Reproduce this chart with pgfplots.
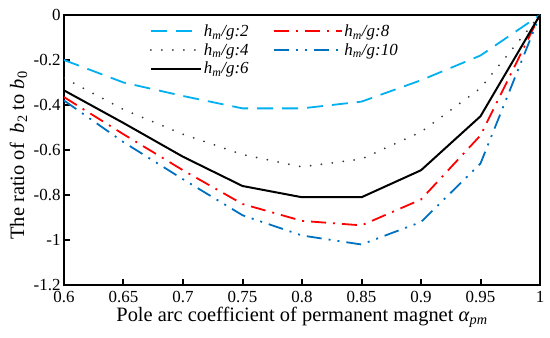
\documentclass[border=0pt]{standalone}
\usepackage{fontspec}
\setmainfont{Liberation Serif}
\usepackage{pgfplots}
\pgfplotsset{compat=1.18}
\definecolor{cyanl}{RGB}{0,176,240}
\definecolor{blued}{RGB}{0,112,192}
\definecolor{grayd}{RGB}{55,55,55}
\newcommand{\hm}[1]{\textit{h}\textsubscript{\textit{m}}\textit{/g:#1}}
\pgfplotsset{
  shortleg/.style={legend image code/.code={\draw[##1] (0bp,0bp) -- (50bp,0bp);}},
  longleg/.style={legend image code/.code={\draw[##1] (0bp,0bp) -- (68bp,0bp);}},
}
\pgfplotstableread{
x     a      b      c      d      e
0.60 -0.200 -0.280 -0.335 -0.365 -0.380
0.65 -0.300 -0.420 -0.480 -0.530 -0.565
0.70 -0.360 -0.530 -0.630 -0.690 -0.730
0.75 -0.415 -0.620 -0.760 -0.840 -0.890
0.80 -0.415 -0.675 -0.810 -0.915 -0.980
0.85 -0.385 -0.640 -0.810 -0.935 -1.020
0.90 -0.290 -0.520 -0.690 -0.820 -0.920
0.95 -0.180 -0.325 -0.450 -0.535 -0.660
1.00  0.000  0.000  0.000  0.000  0.000
}\datatable
\begin{document}
\begin{tikzpicture}
\useasboundingbox (-64bp,-53bp) rectangle (486bp,285bp);
\begin{axis}[
  scale only axis, width=476bp, height=270bp,
  xmin=0.6, xmax=1, ymin=-1.2, ymax=0,
  xtick={0.6,0.65,0.7,0.75,0.8,0.85,0.9,0.95,1},
  ytick={-1.2,-1,-0.8,-0.6,-0.4,-0.2,0},
  tick align=inside, xtick pos=left, ytick pos=left,
  major tick length=6bp,
  every tick/.style={black, line width=2bp},
  axis line style={line width=2bp},
  /pgf/number format/assume math mode=true,
  ticklabel style={font=\fontsize{17}{20}\selectfont},
  xticklabel style={yshift=-3bp},
  label style={font=\fontsize{20.5}{24}\selectfont},
  xlabel={Pole arc coefficient of permanent magnet \textit{α}\textsubscript{\textit{pm}}},
  ylabel={The ratio of\ \ \textit{b}\textsubscript{2} to \textit{b}\textsubscript{0}},
  xlabel style={at={(axis description cs:0.5,-0.135)}, anchor=base},
  ylabel style={at={(axis description cs:-0.084,0.48)}, anchor=base},
  legend columns=2,
  legend cell align=left,
  legend style={at={(axis description cs:0.18,0.972)}, anchor=north west,
    draw=none, fill=none, inner sep=0pt, row sep=1.5bp,
    font=\fontsize{17}{20}\selectfont,
    /tikz/every even column/.append style={column sep=22bp}},
  no marks,
]
\addplot[color=cyanl, line width=1.8bp, dash pattern=on 16bp off 9bp, shortleg]
  table[x=x,y=a] {\datatable};
\addlegendentry{\hm{2}}
\addplot[color=red, line width=1.8bp, dash pattern=on 15bp off 7bp on 2bp off 7bp, longleg]
  table[x=x,y=d] {\datatable};
\addlegendentry{\hm{8}}
\addplot[color=grayd, line width=2bp, line cap=round, dash pattern=on 0bp off 11bp, shortleg]
  table[x=x,y=b] {\datatable};
\addlegendentry{\hm{4}}
\addplot[color=blued, line width=1.8bp, dash pattern=on 15bp off 7bp on 2bp off 7bp on 2bp off 7bp, longleg]
  table[x=x,y=e] {\datatable};
\addlegendentry{\hm{10}}
\addplot[color=black, line width=2bp, shortleg]
  table[x=x,y=c] {\datatable};
\addlegendentry{\hm{6}}
\end{axis}
\end{tikzpicture}
\end{document}
